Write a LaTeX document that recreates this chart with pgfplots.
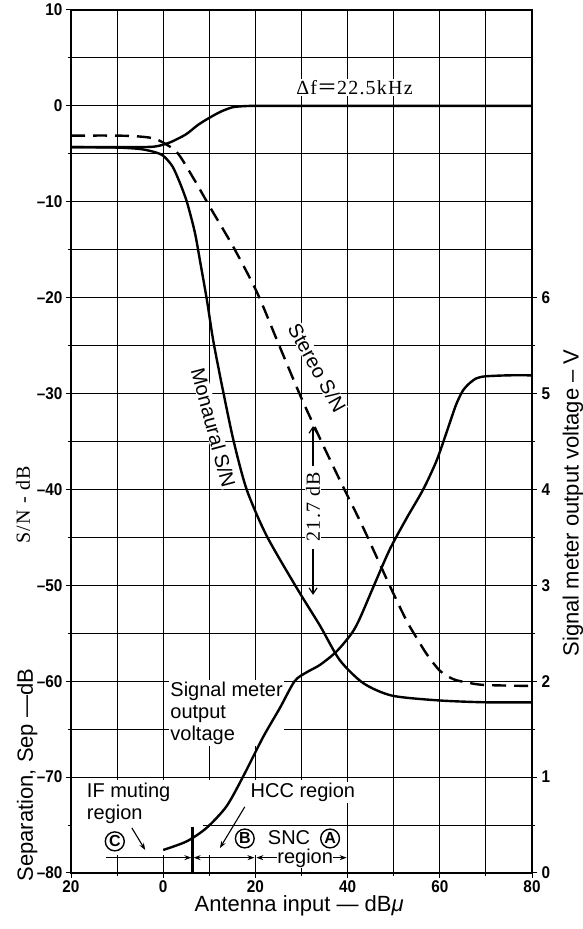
\documentclass[border=0pt]{standalone}
\usepackage{fontspec}
\setmainfont{Liberation Sans}
\newfontfamily\tickfont{Liberation Sans}[FakeStretch=0.9]
\newfontfamily\serfont{Liberation Serif}[LetterSpace=6]
\newfontfamily\cjk{Noto Sans CJK JP}
\usepackage{pgfplots}
\pgfplotsset{compat=1.18}
\usetikzlibrary{arrows.meta}
\newcommand\lab{\fontsize{22bp}{24bp}\selectfont}
\newcommand\ann{\fontsize{20bp}{22bp}\selectfont}
\newcommand\serlab{\serfont\fontsize{20bp}{22bp}\selectfont}
\newcommand\circfont{\fontsize{16bp}{16bp}\selectfont\bfseries}
\begin{document}
\begin{tikzpicture}
\pgfplotsset{
  base/.style={scale only axis, width=461bp, height=863bp, xmin=-20, xmax=80,
    set layers,
    tick label style={font=\tickfont\bfseries\fontsize{17bp}{17bp}\selectfont},
    /pgf/number format/assume math mode=true,
    tick style={black, line width=1bp},
    major tick length=5bp, minor tick length=3bp},
  curve/.style={black, line width=2.4bp, smooth, tension=0.45, no marks}
}
\begin{axis}[base, name=ax, ymin=-80, ymax=10, clip=false,
  axis line style={black, line width=1.6bp},
  xtick={-20,0,20,40,60,80}, xticklabels={20,0,20,40,60,80},
  ytick={-80,-70,...,10},
  yticklabels={–80,–70,–60,–50,–40,–30,–20,–10,0,10},
  minor x tick num=1, minor y tick num=1,
  xtick pos=bottom, ytick pos=left, tick align=outside,
  grid=both, major grid style={black, line width=1.1bp}, minor grid style={black, line width=1.1bp},
  xticklabel style={yshift=1bp},
]
% blank band of the region notes (above the grid, below the curves)
\begin{pgfonlayer}{pre main}
\fill[white] (-19.8,-70.3) rectangle (39.75,-78.1);
\draw[black, line width=1.1bp] (8.6,-75) -- (40,-75);
\end{pgfonlayer}
% Delta f curve
\addplot[curve] coordinates {(-20,-4.3) (-10,-4.3) (-5,-4.3) (-2,-4.25) (0,-4.05) (2,-3.7) (5,-2.95) (7.5,-2.0) (10,-1.25) (12.5,-0.6) (15,-0.15) (17.5,-0.03) (20,0) (30,0) (40,0) (60,0) (80,0)};
% Monaural S/N
\addplot[curve] coordinates {(-20,-4.3) (-10,-4.35) (-5,-4.5) (-2,-4.8) (0,-5.2) (2,-6.3) (3.6,-8.0) (5,-9.8) (6.1,-11.7) (7,-13.5) (8,-16.2) (9.5,-20.3) (10.9,-24.6) (13.1,-30) (15.3,-35) (18.1,-40) (22.4,-44.8) (29,-50.3) (34,-54.2) (38.3,-57.8) (43.4,-60.2) (49.6,-61.5) (59.7,-62.0) (70,-62.2) (80,-62.2)};
% Stereo S/N
\addplot[curve, dash pattern=on 14bp off 8bp] coordinates {(-20,-3.1) (-10,-3.1) (-5,-3.2) (-1.4,-3.5) (2.9,-4.8) (6.5,-7.5) (10.2,-10.6) (15.2,-14.7) (20.3,-19.4) (25,-24.8) (30,-30.5) (35,-35.7) (39.4,-40.1) (43.3,-43.9) (49.2,-50.1) (52.8,-53.7) (55,-55.5) (57.2,-57.2) (60,-58.9) (63,-59.8) (66.6,-60.2) (70,-60.4) (80,-60.5)};

% annotations
\node[fill=white, inner sep=1bp, font=\serlab] at (41.5,1.9) {Δf{\cjk ＝}22.5kHz};
\node[fill=white, inner sep=0.5bp, font=\ann, rotate=-75] at (10.9,-33.6) {Monaural S/N};
\node[fill=white, inner sep=0.5bp, font=\ann, rotate=-61] at (33.4,-27.3) {Stereo S/N};
\node[fill=white, inner sep=1bp, font=\serlab, rotate=90] at (32.5,-41.8) {21.7 dB};
\draw[black, line width=1.2bp, -{Straight Barb[length=6bp,width=8bp]}] (32.5,-37.6) -- (32.5,-33.4);
\draw[black, line width=1.2bp, -{Straight Barb[length=6bp,width=8bp]}] (32.5,-46.2) -- (32.5,-51.0);
\node[fill=white, inner sep=1.5bp, font=\ann, align=left, anchor=north west] at (1.2,-59.9) {Signal meter\\output\\voltage};
\node[inner sep=1.5bp, font=\ann, align=left, anchor=north west] at (-16.9,-70.4) {IF muting\\region};
\node[fill=white, inner sep=1.5bp, font=\ann] at (30.3,-71.6) {HCC region};
\node[draw, circle, line width=1.4bp, inner sep=1bp, font=\circfont] at (-10.5,-76.7) {C};
\node[draw, circle, line width=1.4bp, inner sep=1bp, font=\circfont] at (17.7,-76.4) {B};
\node[draw, circle, line width=1.4bp, inner sep=1bp, font=\circfont] at (36.2,-76.4) {A};
\node[font=\ann, inner sep=0pt] at (27.3,-76.3) {SNC};
\draw[black, line width=1.1bp, -{Stealth[length=7bp,width=5bp]}] (-6.8,-75.3) -- (-3.9,-77.6);
\draw[black, line width=1.1bp, -{Stealth[length=7bp,width=5bp]}] (17.7,-73.1) -- (12.3,-77.4);
\draw[black, line width=1.1bp, -{Stealth[length=7bp,width=5bp]}] (-12.4,-78.4) -- (6.1,-78.4);
\draw[black, line width=1.1bp, {Stealth[length=7bp,width=5bp]}-{Stealth[length=7bp,width=5bp]}] (6.6,-78.4) -- (19.8,-78.4);
\draw[black, line width=1.1bp, {Stealth[length=7bp,width=5bp]}-{Stealth[length=7bp,width=5bp]}] (20.2,-78.4) -- (39.8,-78.4);
\node[fill=white, inner sep=0.5bp, font=\ann] at (30.8,-78.5) {region};
\draw[black, line width=2.2bp] (6.35,-75.2) -- (6.35,-80);

% axis labels
\node[rotate=90, font=\lab] at (-29.5,-69.8) {Separation, Sep —dB};
\node[rotate=90, font=\serlab] at (-30.4,-41.6) {S/N - dB};
\node[rotate=90, font=\lab] at (88.9,-41.4) {Signal meter output voltage – V};
\node[font=\lab] at (29.5,-83.4) {Antenna input — dB\textit{μ}};
\end{axis}
\begin{axis}[base, ymin=0, ymax=9, axis x line=none, axis y line*=right,
  axis line style={black, line width=1.6bp},
  ytick={0,1,...,6}, minor y tick num=1, tick align=outside,
  yticklabel style={xshift=1bp}]
% Signal meter output voltage
\addplot[curve] coordinates {(0,0.24) (5.1,0.33) (9.4,0.47) (13.8,0.7) (17.7,1.04) (21.7,1.42) (25.3,1.72) (28.5,2.0) (31,2.09) (34,2.17) (37.6,2.31) (40.9,2.5) (42.7,2.66) (46,3.03) (49.2,3.38) (52.8,3.7) (56.4,4.0) (59.3,4.3) (61.5,4.6) (63.5,4.88) (65,5.03) (66.5,5.11) (68,5.16) (70,5.18) (75,5.19) (80,5.19)};
\end{axis}
\pgfresetboundingbox
\path[use as bounding box] ([shift={(-71bp,-56bp)}]ax.south west) rectangle ([shift={(51bp,10bp)}]ax.north east);
\end{tikzpicture}
\end{document}
